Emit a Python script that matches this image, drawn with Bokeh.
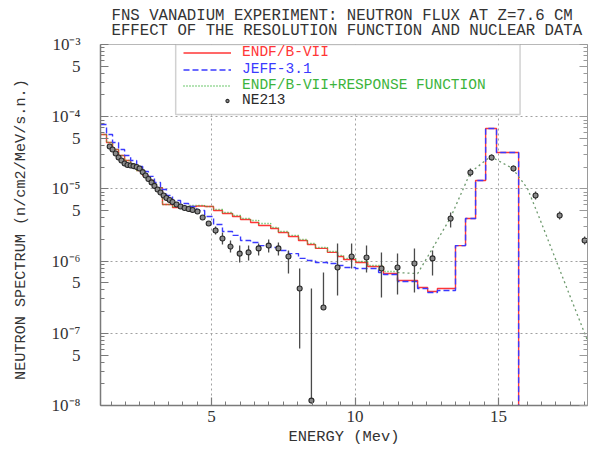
import numpy as np
from bokeh.plotting import figure
from bokeh.models import (Range1d, LogAxis, FixedTicker, Legend, LegendItem,
                          BoxAnnotation, CustomJSTickFormatter)
from bokeh.embed import file_html
from bokeh.resources import INLINE

# ---------------- texts ----------------
title_lines = ["FNS VANADIUM EXPERIMENT: NEUTRON FLUX AT Z=7.6 CM",
               "EFFECT OF THE RESOLUTION FUNCTION AND NUCLEAR DATA"]
x_label = "ENERGY (Mev)"
y_label = "NEUTRON SPECTRUM  (n/cm2/MeV/s.n.)"
series_names = ["ENDF/B-VII", "JEFF-3.1", "ENDF/B-VII+RESPONSE FUNCTION", "NE213"]

# ---------------- axes ----------------
x_min, x_max = 1.13, 18.10
y_min, y_max = 1e-8, 1e-3
x_ticks = [5, 10, 15]
x_minor = list(np.arange(1.5, 18.01, 0.5))
y_decades = [1e-8, 1e-7, 1e-6, 1e-5, 1e-4, 1e-3]
y_decade_labels = ["10\u207b\u2078", "10\u207b\u2077", "10\u207b\u2076",
                   "10\u207b\u2075", "10\u207b\u2074", "10\u207b\u00b3"]
y_fives = [5e-8, 5e-7, 5e-6, 5e-5, 5e-4]
y_five_labels = ["5", "5", "5", "5", "5"]
y_minor = [k * 10.0 ** d for d in range(-8, -3) for k in (2, 3, 4, 6, 7, 8, 9)]

# ---------------- data ----------------
# ENDF/B-VII (step histogram: left edges + last edge)
red_edges = [1.13, 1.34, 1.55, 1.76, 1.97, 2.18, 2.39, 2.60, 2.80, 3.01, 3.29, 3.64, 3.92,
             4.20, 4.48, 4.76, 5.07, 5.38, 5.73, 6.01, 6.36, 6.64, 7.06, 7.33, 7.68, 8.03,
             8.34, 8.62, 9.04, 9.39, 9.60, 10.02, 10.44, 10.99, 11.48, 12.18, 12.53, 12.87,
             13.50, 13.85, 14.20, 14.55, 14.93, 15.70]
red_vals = [5.66e-5, 4.40e-5, 3.52e-5, 2.90e-5, 2.47e-5, 2.11e-5, 1.80e-5, 1.53e-5, 1.31e-5,
            1.04e-5, 6.08e-6, 5.52e-6, 5.52e-6, 5.70e-6, 5.79e-6, 5.70e-6, 5.02e-6, 4.56e-6,
            4.15e-6, 3.77e-6, 3.43e-6, 3.11e-6, 2.83e-6, 2.49e-6, 2.19e-6, 1.93e-6, 1.70e-6,
            1.50e-6, 1.32e-6, 1.16e-6, 1.05e-6, 9.58e-7, 8.41e-7, 6.73e-7, 5.38e-7, 4.30e-7,
            3.79e-7, 4.17e-7, 1.64e-6, 3.89e-6, 1.31e-5, 6.88e-5, 3.19e-5]

# JEFF-3.1
blue_edges = [1.13, 1.34, 1.55, 1.76, 1.97, 2.18, 2.39, 2.60, 2.80, 3.01, 3.22, 3.43, 3.64,
              3.92, 4.20, 4.48, 4.76, 5.07, 5.38, 5.73, 6.01, 6.36, 6.64, 7.06, 7.33, 7.68,
              8.03, 8.34, 8.62, 9.04, 9.39, 9.60, 10.02, 10.44, 10.82, 10.99, 11.48, 12.18,
              12.53, 12.87, 13.50, 13.85, 14.20, 14.55, 14.93, 15.70]
blue_vals = [7.80e-5, 5.66e-5, 4.40e-5, 3.52e-5, 2.90e-5, 2.47e-5, 2.04e-5, 1.74e-5, 1.49e-5,
             1.23e-5, 9.82e-6, 8.11e-6, 6.90e-6, 6.28e-6, 5.70e-6, 5.02e-6, 4.15e-6, 3.21e-6,
             2.57e-6, 2.27e-6, 1.93e-6, 1.81e-6, 1.64e-6, 1.54e-6, 1.40e-6, 1.27e-6, 1.09e-6,
             1.02e-6, 9.58e-7, 9.27e-7, 8.69e-7, 8.14e-7, 7.91e-7, 7.91e-7, 6.95e-7, 6.51e-7,
             5.21e-7, 4.17e-7, 3.67e-7, 3.91e-7, 1.64e-6, 3.89e-6, 1.31e-5, 6.88e-5, 3.19e-5]
hist_floor = 1e-12  # histograms fall to zero above the last edge

# ENDF/B-VII + response function (histogram part, then smooth part)
green_edges = [1.13, 1.34, 1.55, 1.76, 1.97, 2.18, 2.39, 2.60, 2.80, 3.01, 3.29, 3.64, 3.92,
               4.20, 4.48, 4.76, 5.07, 5.38, 5.73, 6.01, 6.36, 6.64, 7.06, 7.33, 7.68, 8.03,
               8.34, 8.62, 9.04, 9.39, 9.60, 10.02, 10.44, 10.99, 11.48]
green_vals = [5.66e-5, 4.40e-5, 3.52e-5, 2.90e-5, 2.47e-5, 2.11e-5, 1.80e-5, 1.53e-5, 1.31e-5,
              1.04e-5, 6.08e-6, 5.70e-6, 5.70e-6, 5.89e-6, 5.89e-6, 5.70e-6, 5.19e-6, 4.71e-6,
              4.29e-6, 3.89e-6, 3.65e-6, 3.32e-6, 2.92e-6, 2.57e-6, 2.27e-6, 1.99e-6, 1.75e-6,
              1.54e-6, 1.36e-6, 1.20e-6, 1.09e-6, 9.86e-7, 8.69e-7, 7.18e-7]
green_tail_x = [11.48, 12.18, 12.70, 13.33, 14.02, 14.72, 15.49, 16.01, 16.46, 17.06, 17.51, 18.10]
green_tail_y = [6.95e-7, 6.71e-7, 1.50e-6, 4.02e-6, 1.69e-5, 2.81e-5, 1.92e-5, 1.01e-5,
                3.65e-6, 8.97e-7, 3.13e-7, 7.94e-8]

# NE213 measurement
ne_E = [1.45, 1.55, 1.66, 1.76, 1.86, 1.97, 2.07, 2.18, 2.28, 2.39, 2.49, 2.60, 2.70, 2.80,
        2.91, 3.01, 3.12, 3.22, 3.33, 3.43, 3.54, 3.64, 3.78, 3.92, 4.06, 4.20, 4.34, 4.51,
        4.69, 4.90, 5.14, 5.38, 5.66, 5.98, 6.29, 6.64, 6.99, 7.33, 7.68, 8.07, 8.48, 8.90,
        9.39, 9.88, 10.40, 10.92, 11.48, 12.07, 12.70, 13.33, 14.02, 14.76, 15.52, 16.29,
        17.13, 18.00]
ne_y = [3.86e-5, 3.52e-5, 3.09e-5, 2.72e-5, 2.47e-5, 2.25e-5, 2.14e-5, 2.11e-5, 2.07e-5,
        2.01e-5, 1.92e-5, 1.71e-5, 1.53e-5, 1.37e-5, 1.23e-5, 1.10e-5, 9.82e-6, 8.91e-6,
        8.11e-6, 7.48e-6, 7.01e-6, 6.59e-6, 6.08e-6, 5.70e-6, 5.43e-6, 5.27e-6, 5.11e-6,
        4.86e-6, 4.02e-6, 3.32e-6, 2.65e-6, 2.06e-6, 1.59e-6, 1.27e-6, 1.32e-6, 1.50e-6,
        1.64e-6, 1.50e-6, 1.16e-6, 4.17e-7, 1.17e-8, 2.28e-7, 8.14e-7, 1.16e-6, 1.12e-6,
        7.91e-7, 8.14e-7, 9.27e-7, 1.09e-6, 3.89e-6, 1.69e-5, 2.72e-5, 1.92e-5, 8.11e-6,
        4.29e-6, 1.93e-6]
err_E = [5.14, 5.38, 5.66, 5.98, 6.29, 6.64, 6.99, 7.33, 7.68, 8.07, 8.48, 8.90, 9.39, 9.88,
         10.40, 10.92, 11.48, 12.07, 12.70, 13.33, 14.02, 14.76, 15.52, 16.29, 17.13, 18.00]
err_lo = [2.33e-6, 1.70e-6, 1.32e-6, 9.58e-7, 1.02e-6, 1.20e-6, 1.32e-6, 1.20e-6, 6.73e-7,
          6.15e-8, 1.10e-8, 2.20e-7, 3.34e-7, 7.91e-7, 6.95e-7, 3.13e-7, 3.44e-7, 3.67e-7,
          6.33e-7, 2.92e-6, 1.49e-5, 2.47e-5, 1.74e-5, 7.13e-6, 3.77e-6, 1.70e-6]
err_hi = [3.01e-6, 2.49e-6, 1.93e-6, 1.64e-6, 1.64e-6, 1.75e-6, 1.99e-6, 1.81e-6, 1.40e-6,
          7.91e-7, 4.17e-7, 6.95e-7, 1.75e-6, 1.75e-6, 1.64e-6, 1.32e-6, 1.27e-6, 1.50e-6,
          1.40e-6, 4.71e-6, 1.92e-5, 2.99e-5, 2.11e-5, 9.20e-6, 4.86e-6, 2.19e-6]

# ---------------- styles ----------------
RED = "#ff3636"
BLUE = "#3a3aff"
GREEN = "#3cb43c"
TAIL = "#6e9a6e"
DARK = "#2a2a2a"
AXIS = "#7a7a7a"
TXT = "#333333"
MONO = "Liberation Mono"
SERIF = "Liberation Serif"

p = figure(width=589, height=450, output_backend="svg", toolbar_location=None,
           y_axis_type="log", x_range=Range1d(x_min, x_max), y_range=Range1d(y_min, y_max),
           min_border_left=100, min_border_right=2, min_border_top=44, min_border_bottom=45)
p.outline_line_color = "#b8b8b8"
p.outline_line_width = 1
p.background_fill_color = "white"
p.border_fill_color = "white"

# two-line title
p.title.text = title_lines[0] + "\n" + title_lines[1]
p.title.align = "left"
p.title.offset = 11
p.title.standoff = 9.5
p.title.text_font = MONO
p.title.text_font_size = "15.7px"
p.title.text_font_style = "normal"
p.title.text_color = TXT
p.title.text_line_height = 0.82

blank = CustomJSTickFormatter(code="return ''")
yticker = FixedTicker(ticks=y_decades + y_fives, minor_ticks=y_minor)
xticker = FixedTicker(ticks=x_ticks, minor_ticks=x_minor)

def style_axis(ax, line_color=AXIS, width=1.5):
    ax.major_tick_in = 8
    ax.major_tick_out = 0
    ax.minor_tick_in = 4
    ax.minor_tick_out = 0
    ax.axis_line_color = line_color
    ax.axis_line_width = width
    ax.major_tick_line_color = line_color
    ax.minor_tick_line_color = line_color
    ax.major_tick_line_width = 1.2
    ax.minor_tick_line_width = 1

ya = p.yaxis[0]
ya.ticker = yticker
ya.major_label_overrides = dict(list(zip(y_decades, y_decade_labels)) +
                                list(zip(y_fives, y_five_labels)))
ya.major_label_standoff = 20
ya.major_label_text_font = SERIF
ya.major_label_text_font_size = "17px"
ya.major_label_text_color = TXT
ya.axis_label = y_label
ya.axis_label_standoff = 19
ya.axis_label_text_font = MONO
ya.axis_label_text_font_size = "15.2px"
ya.axis_label_text_font_style = "normal"
ya.axis_label_text_color = TXT
style_axis(ya)

xa = p.xaxis[0]
xa.ticker = xticker
xa.major_label_standoff = 5
xa.major_label_text_font = SERIF
xa.major_label_text_font_size = "17px"
xa.major_label_text_color = TXT
xa.axis_label = x_label
xa.axis_label_standoff = 3
xa.axis_label_text_font = MONO
xa.axis_label_text_font_size = "15.4px"
xa.axis_label_text_font_style = "normal"
xa.axis_label_text_color = TXT
style_axis(xa)

ra = LogAxis(ticker=yticker, formatter=blank, major_label_standoff=0)
style_axis(ra, "#9a9a9a", 1)
p.add_layout(ra, "right")

p.xgrid.ticker = FixedTicker(ticks=x_ticks)
p.ygrid.ticker = FixedTicker(ticks=y_decades)
p.grid.grid_line_color = "#a0a0a0"
p.grid.grid_line_dash = "2 3"
p.grid.grid_line_width = 1

# ---------------- curves ----------------
r_red = p.step(red_edges, red_vals + [hist_floor], mode="after",
               line_color=RED, line_width=1.4)
r_green = p.step(green_edges, green_vals + [green_tail_y[0]], mode="after",
                 line_color=GREEN, line_width=1.4, line_dash="1 2")
p.line(green_tail_x, green_tail_y, line_color=TAIL, line_width=1.3, line_dash="2 3")
r_blue = p.step(blue_edges, blue_vals + [hist_floor], mode="after",
                line_color=BLUE, line_width=1.4, line_dash="6 3")
p.segment(err_E, err_lo, err_E, err_hi, line_color="#4a4a4a", line_width=1.3)
r_ne = p.scatter(ne_E, ne_y, marker="circle", size=5, line_color=DARK,
                 fill_color="#8a8a8a", line_width=1.1)

# ---------------- legend ----------------
p.add_layout(BoxAnnotation(left=3.75, right=15.75, top=1e-3, bottom=1.07e-4,
                           fill_color="white", fill_alpha=1.0,
                           line_color="#666666", line_width=1.5))
legend_specs = [
    (series_names[0], r_red, RED, (83, 345), 48),
    (series_names[1], r_blue, BLUE, (83, 328), 48),
    (series_names[2], r_green, GREEN, (83, 312), 48),
    (series_names[3], r_ne, DARK, (123, 297), 8),
]
for name, rend, col, loc, gw in legend_specs:
    lg = Legend(items=[LegendItem(label=name, renderers=[rend])], location=loc,
                padding=0, margin=0, spacing=0, border_line_alpha=0,
                background_fill_alpha=0, glyph_width=gw, glyph_height=15,
                label_height=15, label_standoff=11, label_text_color=col,
                label_text_font=MONO, label_text_font_size="14.5px")
    p.add_layout(lg)

open("out.html", "w").write(file_html(p, INLINE))
